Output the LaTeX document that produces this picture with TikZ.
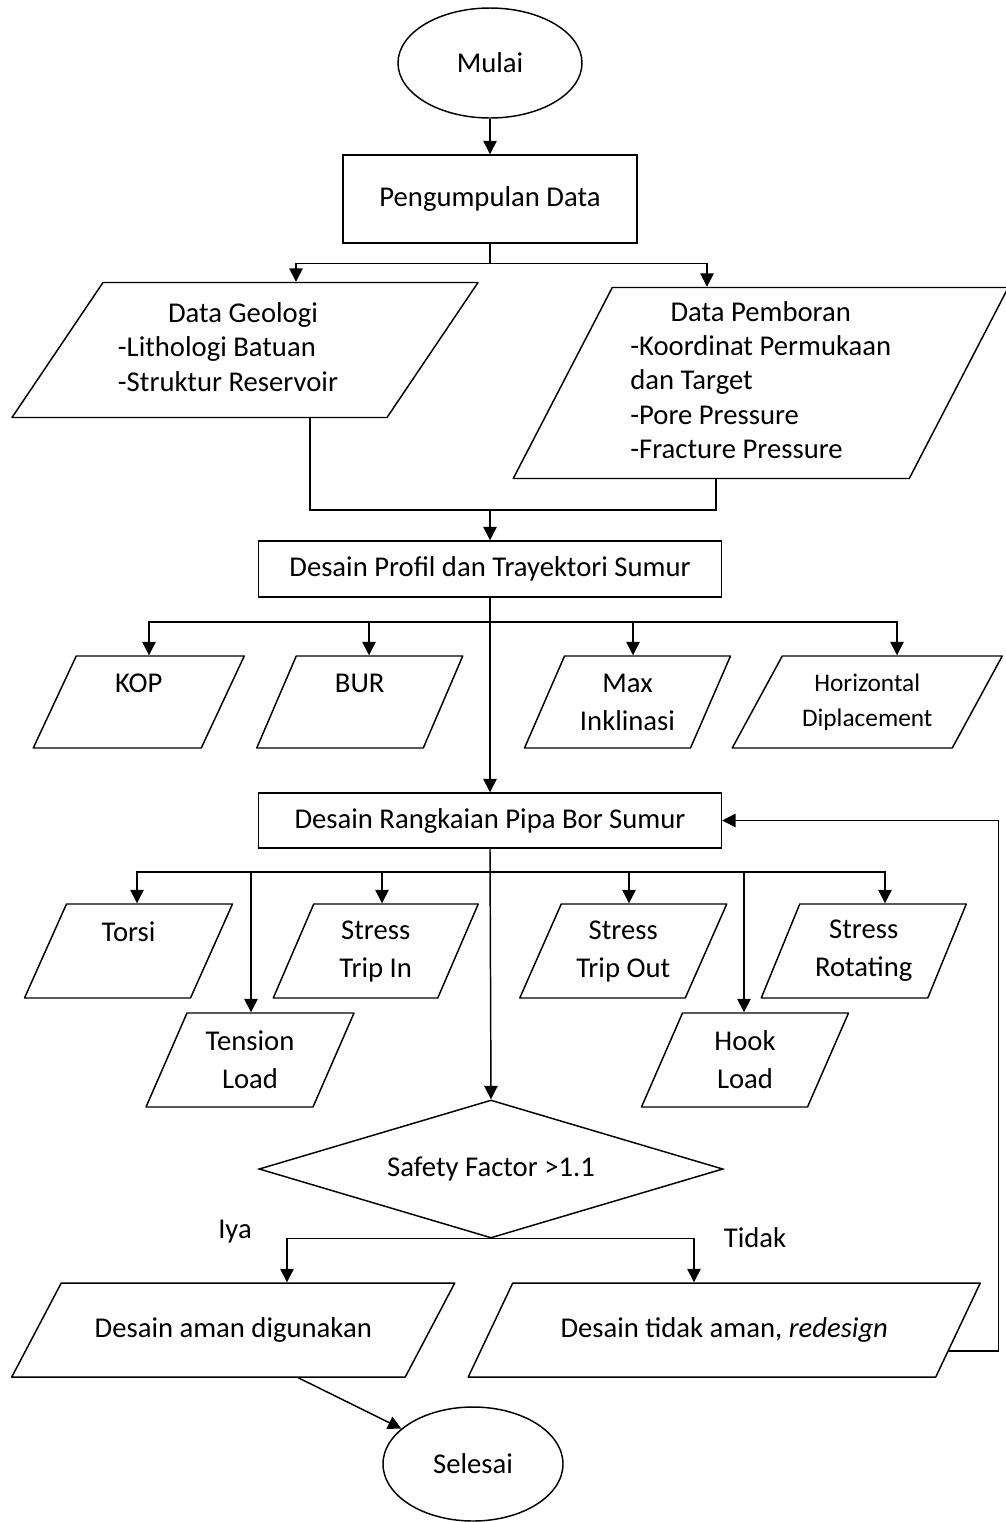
\documentclass[tikz,border=0pt]{standalone}
\usepackage{fontspec}
\setmainfont{Carlito}
\usetikzlibrary{shapes.geometric, positioning, calc, arrows.meta}

\begin{document}
\begin{tikzpicture}[x=0.75pt, y=-0.75pt, line width=1.1pt,
    every node/.style={font=\fontsize{21.5}{25.8}\selectfont},
    arr/.style={-{Triangle[length=10pt,width=10pt]}},
    proc/.style={draw, rectangle, inner sep=0pt},
    term/.style={draw, ellipse, inner sep=0pt},
    cond/.style={draw, diamond, aspect=3.36, inner sep=0pt},
    two/.style={font=\fontsize{21.5}{28.5}\selectfont},
    smalltwo/.style={font=\fontsize{19}{26}\selectfont}]

    % units: one pixel of the sketch
    \def\pxu{0.75pt}

    % input box: [options], name, x, y, width, height, slant, text
    \newcommand{\iobox}[8][]{%
        \path[draw=black, line join=round]
        (#3-#5/2+#7/2,#4-#6/2) -- (#3+#5/2+#7/2,#4-#6/2) -- (#3+#5/2-#7/2,#4+#6/2) -- (#3-#5/2-#7/2,#4+#6/2) -- cycle;
        \node[minimum width=#5*\pxu, minimum height=#6*\pxu, inner sep=0pt, align=center, #1] (#2) at (#3,#4) {#8};
    }

    \useasboundingbox (0,0) rectangle (1006,1522);

    % start and data
    \node[term, minimum width=184*\pxu, minimum height=110*\pxu] (mulai) at (490,63) {Mulai};
    \node[proc, minimum width=294*\pxu, minimum height=88*\pxu] (data) at (490,199) {Pengumpulan Data};

    \iobox[xshift=-12.75pt]{geologi}{245}{350}{375}{135}{91}{\begin{tabular}{@{}l@{}}\multicolumn{1}{@{}c@{}}{\hspace{22.5pt}Data Geologi}\\ -Lithologi Batuan\\ -Struktur Reservoir\end{tabular}}
    \iobox{pemboran}{760.75}{383}{396}{191}{99}{\begin{tabular}{@{}l@{}}\multicolumn{1}{@{}c@{}}{Data Pemboran}\\ -Koordinat Permukaan\\ dan Target\\ -Pore Pressure\\ -Fracture Pressure\end{tabular}}

    \node[proc, minimum width=463*\pxu, minimum height=56*\pxu] (profil) at (490,569) {Desain Profil dan Trayektori Sumur};

    % profile parameters
    \iobox[two]{kop}{138.75}{702}{168}{92}{43}{KOP\\ \mbox{}}
    \iobox[two]{bur}{359.75}{702}{166.5}{92}{39.5}{BUR\\ \mbox{}}
    \iobox[two]{inklinasi}{627.5}{702}{166}{92}{40}{Max\\ Inklinasi}
    \iobox[smalltwo]{displace}{867.25}{702}{220}{92}{50}{Horizontal\\ Diplacement}

    \node[proc, minimum width=463*\pxu, minimum height=55*\pxu] (rangkaian) at (490,820.5) {Desain Rangkaian Pipa Bor Sumur};

    % loads on the string
    \iobox[two]{torsi}{128.5}{951}{166}{94}{42}{Torsi\\ \mbox{}}
    \iobox[two]{tripin}{375.75}{951}{164.5}{94}{40.5}{Stress\\ Trip In}
    \iobox[two]{tripout}{623.25}{951}{165.5}{94}{41.5}{Stress\\ Trip Out}
    \iobox[two]{rotating}{863.75}{951}{166.5}{94}{38.5}{Stress\\ Rotating}
    \iobox[two]{tension}{250}{1060}{167}{94}{41}{Tension\\ Load}
    \iobox[two]{hook}{745}{1060}{166}{94}{41}{Hook\\ Load}

    % decision
    \node[cond, minimum width=464*\pxu, minimum height=138*\pxu] (safety) at (491,1169) {Safety Factor >1.1};
    \node (iya) at (235,1232) {Iya};
    \node (tidaklbl) at (755,1238) {Tidak};

    \iobox{aman}{233.25}{1330}{393.5}{94}{49.5}{Desain aman digunakan}
    \iobox{tidak}{724.25}{1330}{467.5}{94}{44.5}{Desain tidak aman, \textit{redesign}}

    \node[term, minimum width=180*\pxu, minimum height=114*\pxu] (selesai) at (473,1464) {Selesai};

    % connectors
    \draw[arr] (mulai) -- (data);
    \draw[arr] (data.south) -- ++(0,20) -| (296,0 |- geologi.north);
    \draw[arr] (data.south) -- ++(0,20) -| (707,0 |- pemboran.north);
    \draw (310,0 |- geologi.south) |- (716,510) -- (716,0 |- pemboran.south);
    \draw[arr] (profil.north |- 0,510) -- (profil.north);

    \draw[arr] (profil.south) -- (rangkaian.north);
    \foreach \x/\n in {149/kop, 369/bur, 633/inklinasi, 897/displace}
        \draw[arr] (profil.south |- 0,622) -| (\x,0 |- \n.north);

    \draw[arr] (rangkaian.south) -- (safety.north);
    \foreach \x/\n in {137/torsi, 251/tension, 382/tripin, 629/tripout, 744/hook, 885/rotating}
        \draw[arr] (rangkaian.south |- 0,872) -| (\x,0 |- \n.north);

    \draw[arr] (safety.south) -| (287,0 |- aman.north);
    \draw[arr] (safety.south) -| (694,0 |- tidak.north);
    \draw[arr] ($(tidak.east)+(-10,21)$) -- ++(50,0) |- (rangkaian.east);
    \draw[arr] ($(aman.south)+(65,0)$) -- (selesai);

\end{tikzpicture}
\end{document}
